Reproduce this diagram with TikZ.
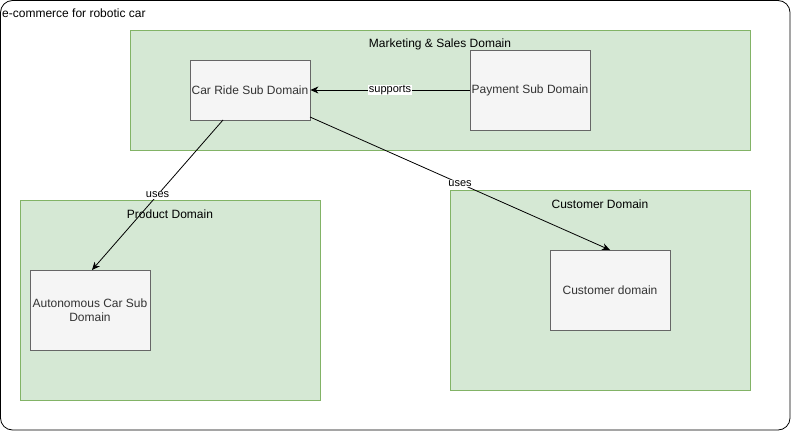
\documentclass[tikz,border=0pt]{standalone}
\usepackage{fontspec}
\setmainfont{Liberation Sans}
\usetikzlibrary{arrows.meta}
\definecolor{grfill}{HTML}{D5E8D4}
\definecolor{grline}{HTML}{82B366}
\definecolor{bxfill}{HTML}{F5F5F5}
\definecolor{bxline}{HTML}{666666}
\definecolor{bxtext}{HTML}{333333}
\begin{document}
\begin{tikzpicture}[x=1pt,y=-1pt,
  domainbox/.style={draw=grline,fill=grfill,line width=0.8pt},
  subbox/.style={draw=bxline,fill=bxfill,line width=0.8pt},
  subtext/.style={text=bxtext,font=\fontsize{12}{14}\selectfont,align=center},
  ttl/.style={font=\fontsize{12}{14}\selectfont},
  conn/.style={line width=0.8pt,-{Stealth[length=8pt,width=7pt,inset=2.5pt]}},
  lbl/.style={fill=white,inner sep=0.5pt,font=\fontsize{11}{13}\selectfont}]
\useasboundingbox (0,0) rectangle (791,431);
\draw[line width=0.8pt,rounded corners=12pt] (0.5,0.5) rectangle (790,430);
\node[ttl,anchor=west,inner sep=0pt] (outer) at (2,13) {e-commerce for robotic car};
% domains
\draw[domainbox] (130,30) rectangle (750,150);
\node[ttl] (mkt) at (440,44) {Marketing \& Sales Domain};
\draw[domainbox] (20,200) rectangle (320,400);
\node[ttl] (prod) at (170,214) {Product Domain};
\draw[domainbox] (450,190) rectangle (750,390);
\node[ttl] (cust) at (600,204) {Customer Domain};
% sub domains
\node[subbox,minimum width=120pt,minimum height=60pt,inner sep=0pt] (car) at (250,90) {};
\node[subtext] at (car) {Car Ride Sub Domain};
\node[subbox,minimum width=120pt,minimum height=80pt,inner sep=0pt] (pay) at (530,90) {};
\node[subtext] at (pay) {Payment Sub Domain};
\node[subbox,minimum width=120pt,minimum height=80pt,inner sep=0pt] (auto) at (90,310) {};
\node[subtext] at (auto) {Autonomous Car Sub\\Domain};
\node[subbox,minimum width=120pt,minimum height=80pt,inner sep=0pt] (cdom) at (610,290) {};
\node[subtext] at (cdom) {Customer domain};
% connectors
\coordinate (carB) at (223,120);
\coordinate (carR) at (310,117);
\coordinate (autoT) at (92,270);
\coordinate (cdomT) at (610,250);
\draw[conn] (pay.west) -- node[lbl] {supports} (car.east);
\draw[conn] (carB) -- node[lbl,pos=0.5] {uses} (autoT);
\draw[conn] (carR) -- node[lbl,pos=0.5] {uses} (cdomT);
\end{tikzpicture}
\end{document}
